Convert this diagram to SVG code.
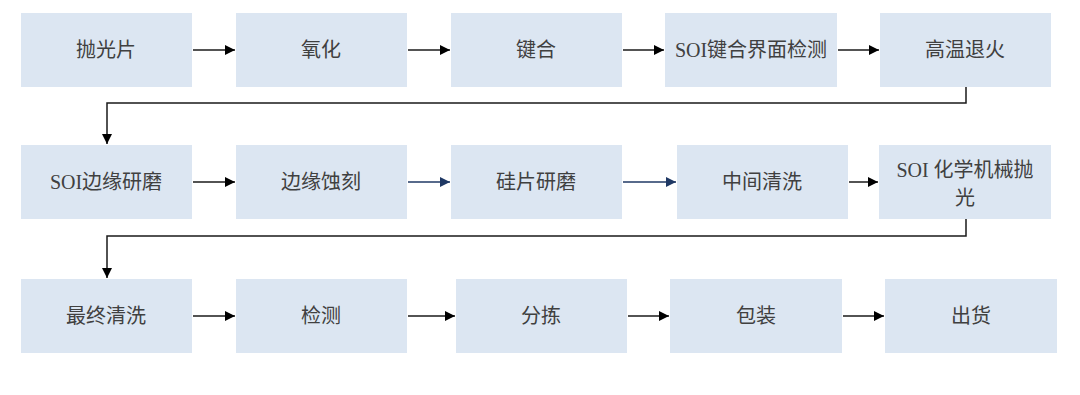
<svg xmlns="http://www.w3.org/2000/svg" width="1080" height="395" viewBox="0 0 1080 395">
<style>
.box{fill:#dce6f2}
.t{font-family:"Liberation Serif","Noto Sans CJK SC",serif;font-size:20px;fill:#404040;text-anchor:middle;dominant-baseline:central}
.c{stroke:#1a1a1a;stroke-width:1.5;fill:none}
.n{stroke:#1f3864;stroke-width:1.5;fill:none}
</style>
<defs>
<marker id="a" viewBox="0 0 10 10" refX="10" refY="5" markerWidth="10" markerHeight="10" markerUnits="userSpaceOnUse" orient="auto"><path d="M0,0 L10,5 L0,10 z" fill="#000"/></marker>
<marker id="b" viewBox="0 0 10 10" refX="10" refY="5" markerWidth="10" markerHeight="10" markerUnits="userSpaceOnUse" orient="auto"><path d="M0,0 L10,5 L0,10 z" fill="#1f3864"/></marker>
</defs>
<rect width="1080" height="395" fill="#fff"/>
<g id="n1"><rect class="box" x="21" y="13" width="171" height="74"/><text class="t" x="106" y="50">抛光片</text></g>
<g id="n2"><rect class="box" x="236" y="13" width="171" height="74"/><text class="t" x="321" y="50">氧化</text></g>
<g id="n3"><rect class="box" x="451" y="13" width="171" height="74"/><text class="t" x="536" y="50">键合</text></g>
<g id="n4"><rect class="box" x="665" y="13" width="172" height="74"/><text class="t" x="751" y="50">SOI键合界面检测</text></g>
<g id="n5"><rect class="box" x="880" y="13" width="171" height="74"/><text class="t" x="965" y="50">高温退火</text></g>
<g id="n6"><rect class="box" x="21" y="145" width="171" height="74"/><text class="t" x="106" y="182">SOI边缘研磨</text></g>
<g id="n7"><rect class="box" x="236" y="145" width="171" height="74"/><text class="t" x="321" y="182">边缘蚀刻</text></g>
<g id="n8"><rect class="box" x="451" y="145" width="171" height="74"/><text class="t" x="536" y="182">硅片研磨</text></g>
<g id="n9"><rect class="box" x="677" y="145" width="171" height="74"/><text class="t" x="762" y="182">中间清洗</text></g>
<g id="n10"><rect class="box" x="879" y="145" width="172" height="74"/><text class="t" x="965" y="170">SOI 化学机械抛</text><text class="t" x="965" y="198">光</text></g>
<g id="n11"><rect class="box" x="21" y="279" width="171" height="74"/><text class="t" x="106" y="316">最终清洗</text></g>
<g id="n12"><rect class="box" x="236" y="279" width="171" height="74"/><text class="t" x="321" y="316">检测</text></g>
<g id="n13"><rect class="box" x="456" y="279" width="171" height="74"/><text class="t" x="541" y="316">分拣</text></g>
<g id="n14"><rect class="box" x="670" y="279" width="172" height="74"/><text class="t" x="756" y="316">包装</text></g>
<g id="n15"><rect class="box" x="885" y="279" width="172" height="74"/><text class="t" x="971" y="316">出货</text></g>
<g id="connectors">
<line class="c" x1="193" y1="50" x2="235" y2="50" marker-end="url(#a)"/>
<line class="c" x1="408" y1="50" x2="450" y2="50" marker-end="url(#a)"/>
<line class="c" x1="623" y1="50" x2="664" y2="50" marker-end="url(#a)"/>
<line class="c" x1="838" y1="50" x2="879" y2="50" marker-end="url(#a)"/>
<polyline class="c" points="966,87 966,103 107,103 107,144" marker-end="url(#a)"/>
<line class="c" x1="193" y1="182" x2="235" y2="182" marker-end="url(#a)"/>
<line class="n" x1="408" y1="182" x2="450" y2="182" marker-end="url(#b)"/>
<line class="n" x1="623" y1="182" x2="676" y2="182" marker-end="url(#b)"/>
<line class="c" x1="849" y1="182" x2="878" y2="182" marker-end="url(#a)"/>
<polyline class="c" points="966,219 966,236 107,236 107,278" marker-end="url(#a)"/>
<line class="c" x1="193" y1="316" x2="235" y2="316" marker-end="url(#a)"/>
<line class="c" x1="408" y1="316" x2="455" y2="316" marker-end="url(#a)"/>
<line class="c" x1="628" y1="316" x2="669" y2="316" marker-end="url(#a)"/>
<line class="c" x1="843" y1="316" x2="884" y2="316" marker-end="url(#a)"/>
</g>
</svg>
